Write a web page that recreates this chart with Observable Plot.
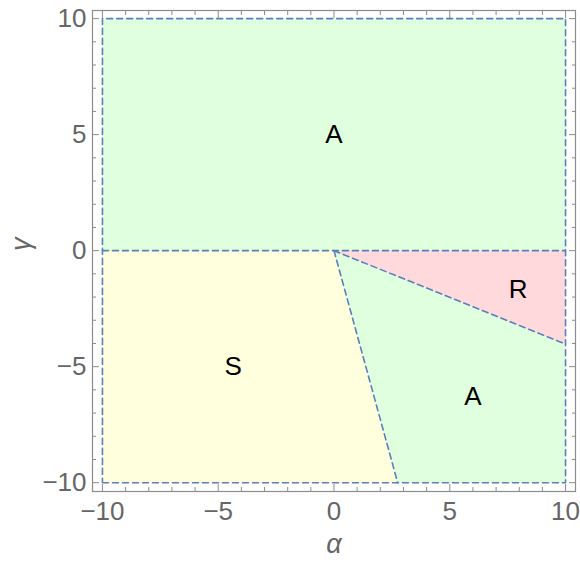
<!DOCTYPE html>
<html><head><meta charset="utf-8">
<script src="https://cdn.jsdelivr.net/npm/d3@7"></script>
<script src="https://cdn.jsdelivr.net/npm/@observablehq/plot@0.6"></script>
<style>
body{margin:0;background:#fff;}
svg text{font-family:"Liberation Sans",Arial,sans-serif;}
</style></head>
<body><div id="chart"></div>
<script>
// Region polygons (alpha, gamma vertices)
const regionTopA = [[-10,0],[10,0],[10,10],[-10,10]];
const regionS = [[-10,0],[0,0],[2.75,-10],[-10,-10]];
const regionBottomA = [[0,0],[10,-4.03],[10,-10],[2.75,-10]];
const regionR = [[0,0],[10,0],[10,-4.03]];
const regionColors = ["#dfffdf","#ffffdd","#dfffdf","#ffd9dc"];

// Boundary lines (dashed)
const boundaries = [
  [[-10,-10],[10,-10],[10,10],[-10,10],[-10,-10]],
  [[-10,0],[10,0]],
  [[0,0],[2.75,-10]],
  [[0,0],[10,-4.03]]
];

// Region labels
const labelText = ["A","S","A","R"];
const labelX = [0,-4.35,6,7.95];
const labelY = [5,-5,-6.3,-1.7];

const majorTicks = [-10,-5,0,5,10];
const minorTicks = d3.range(-10,11,1).filter(d => !majorTicks.includes(d));

const polys = [regionTopA, regionS, regionBottomA, regionR];
const polyData = polys.flatMap((p,i) => p.map(([a,g]) => ({a,g,id:i,color:regionColors[i]})));
const lineData = boundaries.flatMap((p,i) => p.map(([a,g]) => ({a,g,id:i})));
const labels = labelText.map((t,i) => ({t, a: labelX[i], g: labelY[i]}));

const frameColor = "#8c8c8c";
const tickColor = "#8c8c8c";
const textColor = "#666";
const fmt = d => d < 0 ? "\u2212" + Math.abs(d) : String(d);

const chart = Plot.plot({
  width: 580, height: 564,
  marginLeft: 92, marginRight: 5, marginTop: 10, marginBottom: 73,
  style: {fontSize: "26px"},
  x: {domain: [-10.43, 10.43]},
  y: {domain: [-10.38, 10.35]},
  marks: [
    Plot.line(polyData, {x:"a", y:"g", z:"id", fill:"color", stroke:"none"}),
    Plot.line(lineData, {x:"a", y:"g", z:"id", stroke:"#5b7fb8", strokeWidth:1.6, strokeDasharray:"6,4"}),
    Plot.text(labels, {x:"a", y:"g", text:"t", fill:"#000", fontSize: 26}),
    Plot.frame({stroke: frameColor, strokeWidth: 1.2}),
    Plot.axisX(majorTicks, {anchor:"bottom", tickSize:-7, text:null, stroke:tickColor, label:null}),
    Plot.axisX(minorTicks, {anchor:"bottom", tickSize:-4, text:null, stroke:tickColor, label:null}),
    Plot.axisX(majorTicks, {anchor:"top", tickSize:-7, text:null, stroke:tickColor, label:null}),
    Plot.axisX(minorTicks, {anchor:"top", tickSize:-4, text:null, stroke:tickColor, label:null}),
    Plot.axisY(majorTicks, {anchor:"left", tickSize:-7, text:null, stroke:tickColor, label:null}),
    Plot.axisY(minorTicks, {anchor:"left", tickSize:-4, text:null, stroke:tickColor, label:null}),
    Plot.axisY(majorTicks, {anchor:"right", tickSize:-7, text:null, stroke:tickColor, label:null}),
    Plot.axisY(minorTicks, {anchor:"right", tickSize:-4, text:null, stroke:tickColor, label:null}),
    Plot.axisX(majorTicks, {anchor:"bottom", tickSize:0, tickPadding:10, fill:textColor, label:null, tickFormat: fmt, fontSize: 26}),
    Plot.axisY(majorTicks, {anchor:"left", tickSize:0, tickPadding:6, fill:textColor, label:null, tickFormat: fmt, fontSize: 26}),
    Plot.text(["α"], {frameAnchor:"bottom", dy:61, fontStyle:"italic", fill:textColor, fontSize: 27}),
    Plot.text(["γ"], {frameAnchor:"left", dx:-71, rotate:-90, fontStyle:"italic", fill:textColor, fontSize: 27})
  ]
});
document.getElementById("chart").appendChild(chart);
</script>
</body></html>
